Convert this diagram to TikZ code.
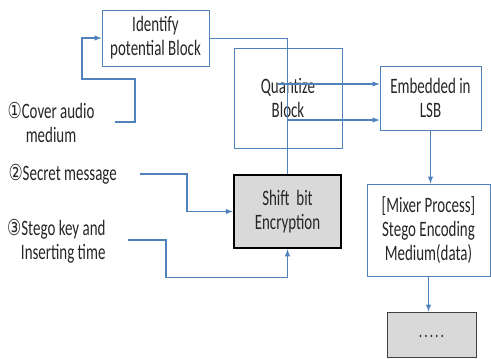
\documentclass[tikz,border=0pt]{standalone}
\usepackage{fontspec}
\setmainfont[FakeStretch=0.68]{Carlito}
\newfontfamily\circfont[FakeStretch=0.72]{DejaVu Sans}
\usepackage{xcolor}
\usepackage{tikz}
\definecolor{lineblue}{RGB}{79,129,189}
\definecolor{boxgray}{RGB}{217,217,217}
\definecolor{textgray}{RGB}{38,38,38}

\begin{document}
\begin{tikzpicture}[x=1pt,y=-1pt,>=latex,
    every node/.style={text=textgray,font=\fontsize{22}{24}\selectfont},
    box/.style={draw=lineblue,line width=0.8pt,align=center,inner sep=0pt},
    link/.style={lineblue,line width=1.4pt}]
    \useasboundingbox (0,0) rectangle (491,359);
    % boxes
    \node[box,minimum width=107,minimum height=56] (ident) at (155.5,38) {Identify\\potential Block};
    \node[box,minimum width=108,minimum height=100] (quant) at (288,98) {Quantize\\Block};
    \node[box,minimum width=101,minimum height=64] (emb) at (430.5,98) {Embedded in\\LSB};
    \node[box,draw=black,line width=2.5pt,fill=boxgray,minimum width=107,minimum height=73] (shift) at (287.5,211.5) {Shift~~bit\\Encryption};
    \node[box,minimum width=123,minimum height=92] (mixer) at (428.5,230) {[Mixer Process]\\Stego Encoding\\Medium(data)};
    \node[box,draw=black!75,fill=boxgray,minimum width=89,minimum height=45] (dots) at (431.5,334.5) {\raisebox{-6pt}{\fontsize{16}{16}\selectfont\bfseries .\kern2.5pt.\kern2.5pt.\kern2.5pt.\kern2.5pt.}};
    % inputs
    \node[align=center] (cover) at (51,122) {{\circfont ①}Cover audio\\medium};
    \node[anchor=west] (secret) at (5,174) {{\circfont ②}Secret message};
    \node[align=right,anchor=east] (stego) at (109,241) {{\circfont ③}Stego key and\\Inserting time};
    \coordinate (cv) at (115,122);
    \coordinate (sm) at (140,174);
    \coordinate (sk) at (128,240);
    \coordinate (qa) at (278,84);
    \coordinate (br) at (287.5,120);
    % connectors
    \draw[link,->] (cv) -- (135,122) |- (82,79) |- (ident.west);
    \draw[link,->] (sm) -- (187,174) |- (shift.west);
    \draw[link,->] (sk) -- (166,240) |- ([yshift=-28pt]shift.south) -- (shift.south);
    \draw[lineblue,line width=0.8pt] (ident.east) -| (shift.north);
    \draw[link,->] (qa) -- (emb.west |- qa);
    \draw[link,->] (br) -- (emb.west |- br);
    \draw[link,->] (emb.south) -- (emb.south |- mixer.north);
    \draw[link,->] (mixer.south) -- (mixer.south |- dots.north);
\end{tikzpicture}
\end{document}
